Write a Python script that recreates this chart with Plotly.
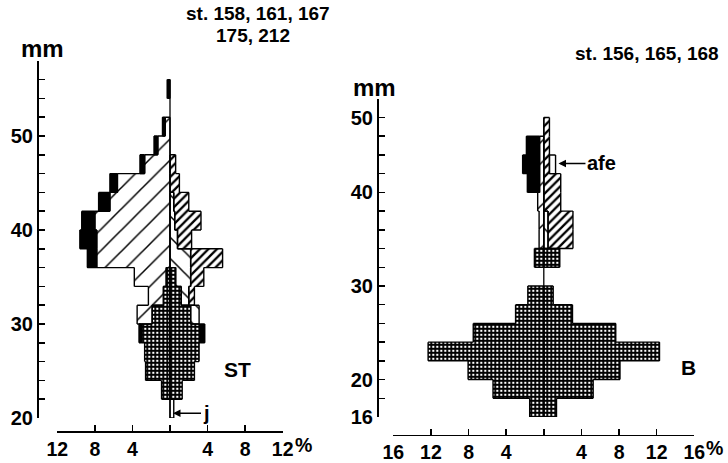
import plotly.graph_objects as go

W, H = 728, 463

# ---------------- Left panel (ST) : 2-mm length classes, % frequency ----------------
st_bins        = [20, 22, 24, 26, 28, 30, 32, 34, 36, 38, 40, 42, 44, 46, 48, 50, 52, 54]
st_cross_left  = [0, 0.9, 2.6, 2.7, 3.0, 1.9, 0.7, 0.4, 0, 0, 0, 0, 0, 0, 0, 0, 0, 0]
st_hatch_left  = [0, 0, 0, 0, 0, 1.6, 1.6, 3.4, 7.8, 7.8, 8.0, 6.4, 5.6, 2.7, 1.3, 0.5, 0, 0]
st_black_left  = [0, 0, 0, 0, 0.3, 0, 0, 0, 1.0, 1.8, 1.4, 1.2, 0.8, 0.5, 0.4, 0.3, 0, 0.3]
st_cross_right = [0, 1.3, 2.6, 3.1, 3.2, 2.2, 1.2, 0.6, 0, 0, 0, 0, 0, 0, 0, 0, 0, 0]
st_hatch_right = [0, 0, 0, 0, 0, 0.9, 0.8, 1.6, 2.2, 0.8, 0.5, 0.4, 0, 0, 0, 0, 0, 0]
st_dense_right = [0, 0, 0, 0, 0, 0, 0.6, 1.4, 3.4, 1.5, 2.8, 1.6, 1.0, 0.6, 0, 0, 0, 0]
st_black_right = [0, 0, 0, 0, 0.5, 0, 0, 0, 0, 0, 0, 0, 0, 0, 0, 0, 0, 0]
st_white_right = [0.4, 0, 0, 0, 0, 0, 0, 0, 0, 0, 0, 0, 0, 0, 0, 0, 0, 0]

# ---------------- Right panel (B) ----------------
b_bins        = [16, 18, 20, 22, 24, 26, 28, 30, 32, 34, 36, 38, 40, 42, 44, 46]
b_cross_left  = [1.5, 5.4, 8.05, 12.3, 7.5, 3.0, 1.7, 0, 1.0, 0, 0, 0, 0, 0, 0, 0]
b_hatch_left  = [0, 0, 0, 0, 0, 0, 0, 0, 0, 0.5, 0.5, 0.65, 0.45, 0.45, 0.45, 0]
b_black_left  = [0, 0, 0, 0, 0, 0, 0, 0, 0, 0, 0, 0, 1.3, 1.8, 1.4, 0]
b_cross_right = [1.35, 5.25, 8.1, 12.3, 7.65, 3.05, 1.0, 0, 1.7, 0, 0, 0, 0, 0, 0, 0]
b_hatch_right = [0, 0, 0, 0, 0, 0, 0, 0, 0, 0.45, 0.45, 0, 0, 0, 0, 0]
b_dense_right = [0, 0, 0, 0, 0, 0, 0, 0, 0, 2.65, 2.65, 1.8, 1.8, 0.6, 0.6, 0.6]
b_black_right = [0] * 16
b_white_right = [0, 0, 0, 0, 0, 0, 0, 0, 0, 0, 0, 0, 0, 0.65, 0, 0]

# tick labels
st_x_ticks = [-12, -8, -4, 0, 4, 8, 12]
st_x_text = ["12", "8", "4", "", "4", "8", "12"]
st_y_ticks = list(range(20, 59, 2))
st_y_labels = {20: "20", 30: "30", 40: "40", 50: "50"}
b_x_ticks = [-16, -12, -8, -4, 0, 4, 8, 12, 16]
b_x_text = ["16", "12", "8", "4", "", "4", "8", "12", "16"]
b_y_ticks = list(range(16, 51, 2))
b_y_labels = {16: "16", 20: "20", 30: "30", 40: "40", 48: "50"}

BLACK = "black"
styles = {
    "cross": dict(color="white", pattern=dict(shape="+", fgcolor=BLACK, bgcolor="white", size=4, solidity=0.72)),
    "hatchL": dict(color="white", pattern=dict(shape="/", fgcolor=BLACK, bgcolor="white", size=15, solidity=0.1)),
    "hatchR": dict(color="white", pattern=dict(shape="\\", fgcolor=BLACK, bgcolor="white", size=15, solidity=0.1)),
    "dense": dict(color="white", pattern=dict(shape="/", fgcolor=BLACK, bgcolor="white", size=6, solidity=0.38)),
    "black": dict(color=BLACK),
    "white": dict(color="white"),
}

fig = go.Figure()


def add_bars(bins, vals, sign, style, xa, ya):
    ys = [b + 1 for b, v in zip(bins, vals) if v > 0]
    xs = [sign * v for v in vals if v > 0]
    if not xs:
        return
    m = dict(styles[style])
    m["line"] = dict(width=0)
    fig.add_trace(go.Bar(x=xs, y=ys, width=2, orientation="h", marker=m,
                         xaxis=xa, yaxis=ya, hoverinfo="skip"))


def sym_diff(i1, i2):
    if i1 is None and i2 is None:
        return []
    if i1 is None:
        return [i2]
    if i2 is None:
        return [i1]
    p = sorted([i1[0], i1[1], i2[0], i2[1]])
    return [s for s in ((p[0], p[1]), (p[2], p[3])) if s[1] - s[0] > 1e-9]


def add_outlines(bins, layers, sign, xa, ya):
    """Perimeter of every stacked region of one side, from the same values as the bars."""
    n = len(bins)
    cum = [0.0] * n
    xs, ys = [], []
    for vals in layers:
        iv = []
        for i in range(n):
            if vals[i] > 0:
                iv.append((cum[i], cum[i] + vals[i]))
                cum[i] += vals[i]
            else:
                iv.append(None)
        for i in range(n):
            if iv[i]:
                for xv in iv[i]:
                    xs += [sign * xv, sign * xv, None]
                    ys += [bins[i], bins[i] + 2, None]
        for i in range(n + 1):
            below = iv[i - 1] if i >= 1 else None
            above = iv[i] if i < n else None
            yb = bins[0] + 2 * i
            for a, b in sym_diff(below, above):
                xs += [sign * a, sign * b, None]
                ys += [yb, yb, None]
    fig.add_trace(go.Scatter(x=xs, y=ys, mode="lines", line=dict(color=BLACK, width=1.4),
                             xaxis=xa, yaxis=ya, hoverinfo="skip"))


panels = [
    ("x", "y", st_bins,
     [st_cross_left, st_hatch_left, st_black_left],
     [st_cross_right, st_hatch_right, st_dense_right, st_black_right, st_white_right]),
    ("x2", "y2", b_bins,
     [b_cross_left, b_hatch_left, b_black_left],
     [b_cross_right, b_hatch_right, b_dense_right, b_black_right, b_white_right]),
]
left_styles = ["cross", "hatchL", "black"]
right_styles = ["cross", "hatchR", "dense", "black", "white"]

for xa, ya, bins, lefts, rights in panels:
    for vals, st in zip(lefts, left_styles):
        add_bars(bins, vals, -1, st, xa, ya)
    for vals, st in zip(rights, right_styles):
        add_bars(bins, vals, 1, st, xa, ya)
for xa, ya, bins, lefts, rights in panels:
    add_outlines(bins, lefts, -1, xa, ya)
    add_outlines(bins, rights, 1, xa, ya)

# central stems
fig.add_trace(go.Scatter(x=[0, 0], y=[20, 56], mode="lines", line=dict(color=BLACK, width=1.3),
                         xaxis="x", yaxis="y", hoverinfo="skip"))
fig.add_trace(go.Scatter(x=[0, 0], y=[16, 48], mode="lines", line=dict(color=BLACK, width=1.3),
                         xaxis="x2", yaxis="y2", hoverinfo="skip"))

FONT = "Liberation Sans, Arial, sans-serif"
YF = dict(family=FONT, size=20, color=BLACK, weight="bold")
XF = dict(family=FONT, size=19.5, color=BLACK, weight="bold")
common = dict(showgrid=False, zeroline=False, showline=True, linecolor=BLACK, linewidth=1.5,
              ticks="inside", ticklen=6, tickwidth=1.5, tickcolor=BLACK, automargin=False,
              fixedrange=True)


def px(x):
    return x / W


def py(y):
    return 1 - y / H


fig.update_layout(
    template="none",
    width=W, height=H, margin=dict(l=0, r=0, t=0, b=0, pad=0, autoexpand=False),
    paper_bgcolor="white", plot_bgcolor="rgba(0,0,0,0)",
    barmode="relative", bargap=0, showlegend=False,
    font=dict(family=FONT, size=20, color=BLACK),
    xaxis=dict(common, tickfont=XF, domain=[px(57.3), px(282.7)], range=[-12, 12], anchor="free",
               position=py(431), tickmode="array", tickvals=st_x_ticks, ticktext=st_x_text),
    yaxis=dict(common, tickfont=YF, domain=[py(418), py(60.8)], range=[20, 58], anchor="free",
               position=px(37), tickmode="array", tickvals=st_y_ticks,
               ticktext=[st_y_labels.get(v, "") for v in st_y_ticks]),
    xaxis2=dict(common, tickfont=XF, domain=[px(393.3), px(694.3)], range=[-16, 16], anchor="free",
                position=py(434.5), tickmode="array", tickvals=b_x_ticks, ticktext=b_x_text),
    yaxis2=dict(common, tickfont=YF, domain=[py(417), py(98.8)], range=[16, 50], anchor="free",
                position=px(377), tickmode="array", tickvals=b_y_ticks,
                ticktext=[b_y_labels.get(v, "") for v in b_y_ticks]),
)


def label(text, x, y, size=20):
    fig.add_annotation(text=text, x=px(x), y=py(y), xref="paper", yref="paper", showarrow=False,
                       xanchor="center", yanchor="middle",
                       font=dict(family=FONT, size=size, color=BLACK, weight="bold"))


label("st. 158, 161, 167", 258, 13, 19)
label("175, 212", 253, 35, 19)
label("st. 156, 165, 168", 647, 53, 19)
label("mm", 42, 49, 24)
label("mm", 375, 87, 24)
label("ST", 237.5, 369.5, 21)
label("B", 688, 367.5, 21)
label("%", 303, 445, 19.5)
label("%", 714, 448, 19.5)

fig.add_annotation(text="j", x=0.32, y=20.5, xref="x", yref="y", ax=33, ay=0, showarrow=True,
                   arrowhead=2, arrowsize=1, arrowwidth=1.5, arrowcolor=BLACK, standoff=0,
                   font=dict(family=FONT, size=20, color=BLACK, weight="bold"))
fig.add_annotation(text="afe", x=1.56, y=43.1, xref="x2", yref="y2", ax=43, ay=0, showarrow=True,
                   arrowhead=2, arrowsize=1, arrowwidth=1.5, arrowcolor=BLACK, standoff=0,
                   font=dict(family=FONT, size=20, color=BLACK, weight="bold"))

# remove the browser's default 8px body margin so the 728x463 figure fills the window exactly
fig.write_html("out.html", config={"displayModeBar": False, "staticPlot": True},
               post_script="document.body.style.margin='0';document.body.style.overflow='hidden';")
